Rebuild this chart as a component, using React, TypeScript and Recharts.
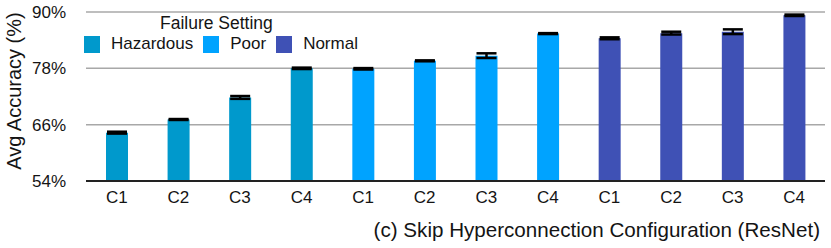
import {
  Bar,
  BarChart,
  CartesianGrid,
  Cell,
  ErrorBar,
  XAxis,
  YAxis,
} from "recharts";

const groups = ["Hazardous", "Poor", "Normal"];
const configs = ["C1", "C2", "C3", "C4"];

const hazardous = [64.3, 67.1, 71.8, 78.0];
const poor = [77.9, 79.6, 80.7, 85.4];
const normal = [84.4, 85.5, 85.8, 89.3];

const hazardousErr = [0.2, 0.1, 0.3, 0.15];
const poorErr = [0.15, 0.1, 0.5, 0.1];
const normalErr = [0.2, 0.3, 0.5, 0.15];

const yTicks = [54, 66, 78, 90];

const xTitle = "(c) Skip Hyperconnection Configuration (ResNet)";
const yTitle = "Avg Accuracy (%)";

const colors: Record<string, string> = {
  Hazardous: "#0099cc",
  Poor: "#00a3ff",
  Normal: "#3f51b5",
};

const seriesValues = [hazardous, poor, normal];
const seriesErrors = [hazardousErr, poorErr, normalErr];

const data = groups.flatMap((g, gi) =>
  configs.map((c, ci) => ({
    key: `${g}-${c}`,
    group: g,
    value: seriesValues[gi][ci],
    err: seriesErrors[gi][ci],
  }))
);

const font = "'Liberation Sans', Arial, Helvetica, sans-serif";
const ink = "#141414";

// legend sits over the plot area, like in the original figure
function LegendBox() {
  return (
    <div
      style={{
        position: "absolute",
        left: 84,
        top: 13,
        fontFamily: font,
        color: ink,
        pointerEvents: "none",
      }}
    >
      <div style={{ fontSize: 17.5, marginLeft: 76, lineHeight: "20px" }}>
        Failure Setting
      </div>
      <div style={{ display: "flex", alignItems: "center", marginTop: 1 }}>
        {groups.map((g) => (
          <div
            key={g}
            style={{ display: "flex", alignItems: "center", marginRight: 10 }}
          >
            <span
              style={{
                width: 16,
                height: 17,
                background: colors[g],
                display: "inline-block",
                marginRight: 11,
              }}
            />
            <span style={{ fontSize: 17 }}>{g}</span>
          </div>
        ))}
      </div>
    </div>
  );
}

export default function App() {
  return (
    <div
      style={{
        position: "absolute",
        left: 0,
        top: 0,
        width: 831,
        height: 248,
        background: "#fff",
      }}
    >
      <BarChart
        width={831}
        height={248}
        data={data}
        margin={{ top: 12, right: 6, left: 0, bottom: 0 }}
      >
        <CartesianGrid vertical={false} stroke="#a8a8a8" strokeWidth={1.5} />
        <XAxis
          dataKey="key"
          interval={0}
          tickFormatter={(v: string) => v.split("-")[1]}
          tick={{ fill: ink, fontSize: 17, fontFamily: font }}
          tickLine={false}
          tickSize={6}
          tickMargin={4}
          axisLine={{ stroke: "#222", strokeWidth: 2 }}
          height={67}
          label={{
            content: () => (
              <text
                x={820}
                y={237}
                textAnchor="end"
                fill={ink}
                fontSize={20.6}
                fontFamily={font}
              >
                {xTitle}
              </text>
            ),
          }}
        />
        <YAxis
          domain={[54, 90]}
          ticks={yTicks}
          tickFormatter={(v: number) => `${v}%`}
          tick={{ fill: ink, fontSize: 17, fontFamily: font }}
          tickLine={false}
          axisLine={false}
          tickSize={6}
          tickMargin={14}
          width={86}
          label={{
            content: () => (
              <text
                x={14}
                y={91}
                transform="rotate(-90 14 91)"
                textAnchor="middle"
                dominantBaseline="central"
                fill={ink}
                fontSize={20}
                fontFamily={font}
              >
                {yTitle}
              </text>
            ),
          }}
        />
        <Bar dataKey="value" barSize={22} isAnimationActive={false}>
          {data.map((d) => (
            <Cell key={d.key} fill={colors[d.group]} />
          ))}
          <ErrorBar
            dataKey="err"
            width={10}
            stroke="#000"
            strokeWidth={2.5}
            isAnimationActive={false}
          />
        </Bar>
      </BarChart>
      <LegendBox />
    </div>
  );
}
